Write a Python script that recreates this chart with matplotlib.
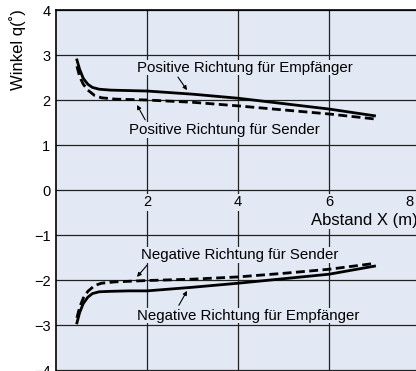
import matplotlib
matplotlib.use("Agg")
import matplotlib.pyplot as plt
import numpy as np

plt.rcParams['font.family'] = ['Liberation Sans', 'DejaVu Sans']

# Data
x_pos_emp = [0.46, 0.52, 0.6, 0.7, 0.8, 0.95, 1.2, 1.6, 2.0, 3.0, 4.0, 5.0, 6.0, 7.0]
y_pos_emp = [2.89, 2.68, 2.48, 2.35, 2.28, 2.24, 2.22, 2.21, 2.20, 2.13, 2.04, 1.92, 1.80, 1.65]
x_pos_snd = [0.46, 0.52, 0.6, 0.7, 0.85, 1.0, 1.3, 2.0, 3.0, 4.0, 5.0, 6.0, 7.0]
y_pos_snd = [2.75, 2.52, 2.35, 2.22, 2.10, 2.05, 2.02, 2.00, 1.95, 1.87, 1.78, 1.69, 1.58]
x_neg_emp = [0.46, 0.52, 0.6, 0.7, 0.8, 0.95, 1.2, 1.6, 2.0, 3.0, 4.0, 5.0, 6.0, 7.0]
y_neg_emp = [-2.95, -2.72, -2.52, -2.38, -2.30, -2.26, -2.25, -2.24, -2.24, -2.16, -2.07, -1.97, -1.87, -1.69]
x_neg_snd = [0.46, 0.52, 0.6, 0.7, 0.85, 1.0, 1.3, 2.0, 3.0, 4.0, 5.0, 6.0, 7.0]
y_neg_snd = [-2.84, -2.60, -2.40, -2.25, -2.12, -2.07, -2.04, -2.01, -1.98, -1.93, -1.85, -1.76, -1.63]

x_ticks = [2, 4, 6, 8]
y_ticks = [4, 3, 2, 1, 0, -1, -2, -3, -4]
y_ticklabels = ['4', '3', '2', '1', '0', '\u22121', '\u22122', '\u22123', '\u22124']

bg = '#e2e9f4'
fig = plt.figure(figsize=(4.16, 3.71), dpi=100)
ax = fig.add_axes([56/416, 0, 1 - 56/416, 361/371])
ax.set_facecolor(bg)
ax.set_xlim(0, 360/45.5)
ax.set_ylim(-4.02, 4)

for s in ['right', 'bottom']:
    ax.spines[s].set_visible(False)
ax.spines['top'].set_linewidth(1.2)
ax.spines['left'].set_linewidth(1.2)

# gridlines
for yv in y_ticks:
    ax.axhline(yv, color='#222222', lw=0.9, zorder=1)
for xv in x_ticks:
    ax.axvline(xv, color='#222222', lw=0.9, zorder=1)

ax.set_xticks([])
ax.set_yticks(y_ticks)
ax.set_yticklabels(y_ticklabels, fontsize=10.5)
ax.tick_params(axis='y', length=0, pad=4)

# x tick labels on the zero line
for xv in x_ticks:
    xx = xv if xv < 8 else 7.76
    ax.text(xx, -0.27, str(xv), ha='center', va='center', fontsize=10.5, zorder=3,
            bbox=dict(facecolor=bg, edgecolor='none', pad=1.0))
ax.text(7.95, -0.67, 'Abstand X (m)', ha='right', va='center', fontsize=12, zorder=3,
        bbox=dict(facecolor=bg, edgecolor='none', pad=1.0))

fig.text(18/416, 1 - 50/371, 'Winkel q(\u02da)', rotation=90, ha='center', va='center', fontsize=12)

lw = 2.0
ax.plot(x_pos_emp, y_pos_emp, color='black', lw=lw, zorder=4)
ax.plot(x_pos_snd, y_pos_snd, color='black', lw=lw, ls=(0, (3.2, 1.6)), zorder=4)
ax.plot(x_neg_emp, y_neg_emp, color='black', lw=lw, zorder=4)
ax.plot(x_neg_snd, y_neg_snd, color='black', lw=lw, ls=(0, (3.2, 1.6)), zorder=4)

ap = dict(arrowstyle='-|>', color='black', lw=0.8, mutation_scale=6, shrinkA=0, shrinkB=0)
def lab(txt, tx, ty, ax0, ay0, ax1, ay1):
    ax.text(tx, ty, txt, ha='center', va='center', fontsize=10.8, zorder=5,
            bbox=dict(facecolor=bg, edgecolor='none', pad=0.5))
    ax.annotate('', xy=(ax1, ay1), xytext=(ax0, ay0), arrowprops=ap, zorder=5)

lab('Positive Richtung f\u00fcr Empf\u00e4nger', 4.15, 2.72, 2.68, 2.51, 2.88, 2.22)
lab('Positive Richtung f\u00fcr Sender', 3.69, 1.33, 1.96, 1.56, 1.78, 1.89)
lab('Negative Richtung f\u00fcr Sender', 4.03, -1.44, 2.0, -1.67, 1.78, -1.93)
lab('Negative Richtung f\u00fcr Empf\u00e4nger', 4.22, -2.79, 2.70, -2.56, 2.88, -2.24)

fig.savefig('out.png', dpi=100)
